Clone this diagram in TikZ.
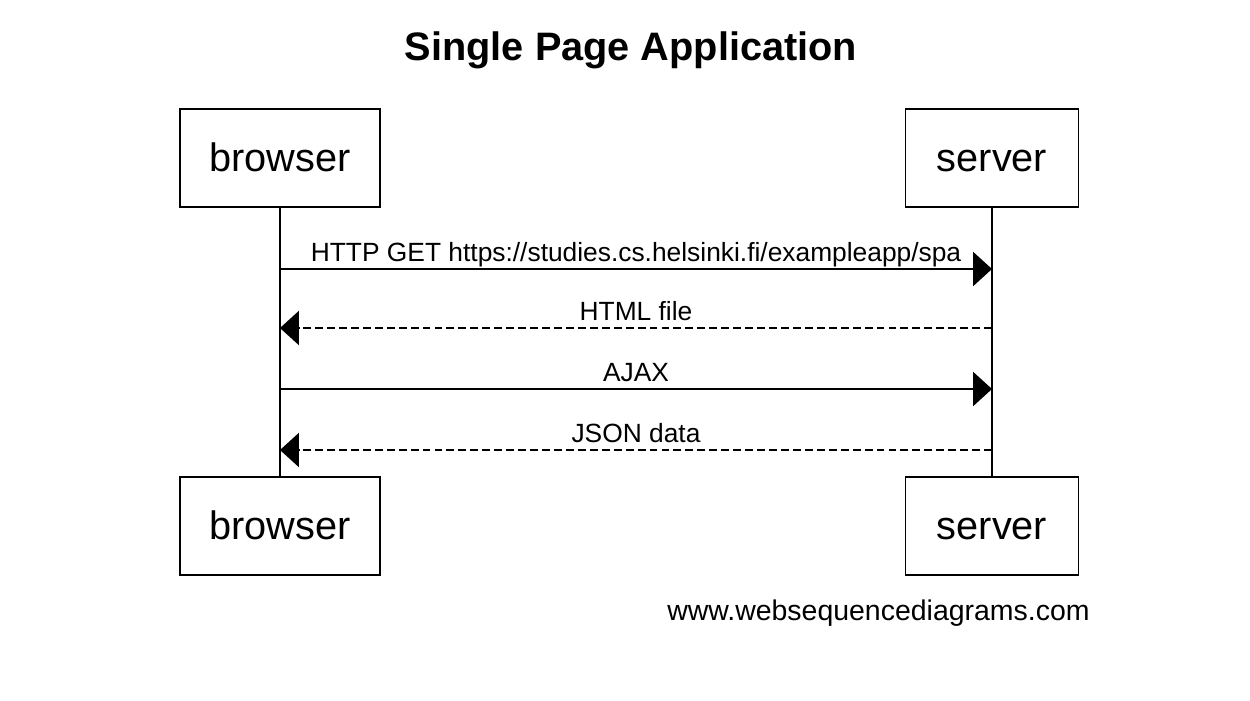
\documentclass[tikz,border=0pt]{standalone}
\usepackage{fontspec}
\setmainfont{Liberation Sans}
\usetikzlibrary{arrows.meta}

\begin{document}
\begin{tikzpicture}[x=0.02cm, y=-0.02cm,
  actor/.style={draw, line width=1.1pt, minimum height=1.96cm, inner sep=0pt,
    font=\fontsize{22.6}{26}\selectfont, text height=15.9pt, text depth=0pt},
  life/.style={line width=0.85pt},
  msg/.style={line width=0.85pt, -{Triangle[length=10.8pt, width=19.5pt]}},
  reply/.style={msg, dash pattern=on 4.5pt off 2.3pt},
  lbl/.style={pos=0.5, anchor=base, yshift=4pt, inner sep=0pt, font=\fontsize{15}{18}\selectfont}]
  \useasboundingbox (0,0) rectangle (1250,700);

  % Titulo
  \node[anchor=base, font=\fontsize{22.6}{27}\selectfont\bfseries] (title) at (631,60) {Single Page Application};

  % Participantes
  \node[actor, minimum width=4cm] (bt) at (280,158) {browser};
  \node[actor, minimum width=3.46cm] (st) at (992,158) {server};
  \node[actor, minimum width=4cm] (bb) at (280,526) {browser};
  \node[actor, minimum width=3.46cm] (sb) at (992,526) {server};

  % Lineas de vida
  \draw[life] (bt) -- (bb);
  \draw[life] (st) -- (sb);

  \foreach \i/\y in {1/269, 2/328, 3/389, 4/450} {
    \coordinate (b\i) at (280,\y);
    \coordinate (s\i) at (992,\y);
  }

  % Mensajes
  \draw[msg] (b1) -- (s1) node[lbl] {HTTP GET https://studies.cs.helsinki.fi/exampleapp/spa};
  \draw[reply] (s2) -- (b2) node[lbl] {HTML file};
  \draw[msg] (b3) -- (s3) node[lbl] {AJAX};
  \draw[reply] (s4) -- (b4) node[lbl] {JSON data};

  \node[anchor=base east, inner sep=0pt, font=\fontsize{16.2}{19}\selectfont] (web) at (1090,620) {www.websequencediagrams.com};
\end{tikzpicture}
\end{document}
